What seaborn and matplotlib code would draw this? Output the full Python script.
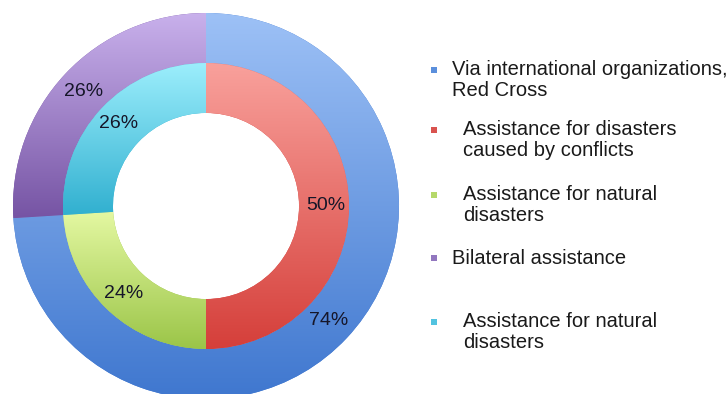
import matplotlib
matplotlib.use('Agg')
import numpy as np
import matplotlib.pyplot as plt
import seaborn as sns
from matplotlib.colors import LinearSegmentedColormap

# Outer ring: channel of assistance
outer_labels = ['Via international organizations,\nRed Cross', 'Bilateral assistance']
outer_values = [74, 26]

# Inner ring: type of assistance
inner_labels = ['Assistance for disasters\ncaused by conflicts',
                'Assistance for natural\ndisasters',
                'Assistance for natural\ndisasters']
inner_values = [50, 24, 26]

# colours (top of gradient, bottom of gradient)
outer_top = ['#9dc1f6', '#c9b1ec']
outer_bottom = ['#3f77cf', '#7654a4']
inner_top = ['#f9a19c', '#e4f8a2', '#9ceefc']
inner_bottom = ['#d53f3a', '#9bc548', '#31b0d0']

# legend order as in the original
legend_labels = [outer_labels[0], inner_labels[0], inner_labels[1], outer_labels[1], inner_labels[2]]
legend_colors = ['#5b8fdc', '#d9534f', '#b5d86a', '#9277bf', '#52c3e0']
legend_indent = [False, True, True, False, True]

sns.set_theme(style='white')
plt.rcParams['font.family'] = ['Liberation Sans', 'DejaVu Sans']

fig = plt.figure(figsize=(7.27, 3.94), dpi=100)
W, H = 727, 394
cx, cy, R = 206, 206, 193
ax = fig.add_axes([(cx - R) / W, (H - cy - R) / H, 2 * R / W, 2 * R / H])

txt = dict(fontsize=14, color='#161629')
outer_w, _, outer_t = ax.pie(outer_values, radius=1.0, startangle=90, counterclock=False,
                             colors=outer_bottom, autopct='%.0f%%', pctdistance=0.87,
                             wedgeprops=dict(width=0.259, edgecolor='none'), textprops=txt)
inner_w, _, inner_t = ax.pie(inner_values, radius=0.741, startangle=90, counterclock=False,
                             colors=inner_bottom, autopct='%.0f%%', pctdistance=0.84,
                             wedgeprops=dict(width=0.259, edgecolor='none'), textprops=txt)

# vertical shading inside each wedge
grad = np.linspace(0, 1, 256).reshape(-1, 1)
for wedges, tops, bottoms in [(outer_w, outer_top, outer_bottom), (inner_w, inner_top, inner_bottom)]:
    for w, c0, c1 in zip(wedges, tops, bottoms):
        ext = w.get_patch_transform().transform_path(w.get_path()).get_extents()
        cmap = LinearSegmentedColormap.from_list('g', [c0, c1])
        im = ax.imshow(grad, cmap=cmap, aspect='auto', origin='upper',
                       extent=[ext.x0, ext.x1, ext.y0, ext.y1], zorder=1.5)
        im.set_clip_path(w)
for t in list(outer_t) + list(inner_t):
    t.set_zorder(3)

ax.set_xlim(-1, 1)
ax.set_ylim(-1, 1)
ax.axis('off')

# legend drawn in pixel coordinates
lax = fig.add_axes([0, 0, 1, 1])
lax.set_xlim(0, W)
lax.set_ylim(H, 0)
lax.axis('off')
first_line_y = [70, 130, 195, 258, 322]
for lab, col, ind, y in zip(legend_labels, legend_colors, legend_indent, first_line_y):
    lax.scatter([434], [y], marker='s', s=24, color=col, edgecolors='none')
    n = lab.count('\n')
    lax.text(463 if ind else 452, y + n * 10, lab, fontsize=14.5, color='#1a1a1a',
             va='center', ha='left', linespacing=1.12)

fig.savefig('out.png', dpi=100)
